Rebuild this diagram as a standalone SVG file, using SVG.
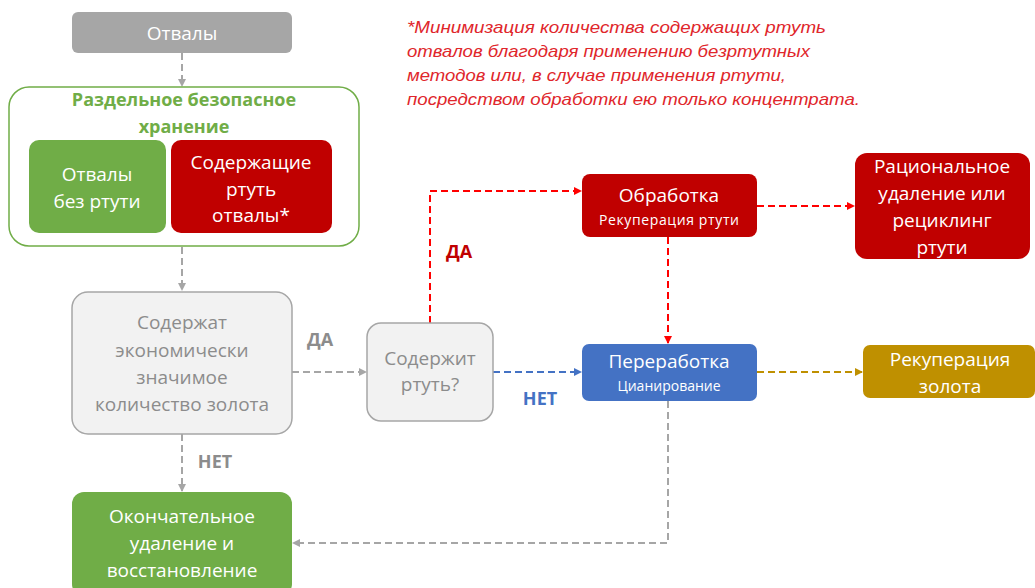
<svg xmlns="http://www.w3.org/2000/svg" width="1035" height="588" viewBox="0 0 1035 588">
<defs>
<style>
.t{font-family:"Open Sans","Liberation Sans",sans-serif;text-anchor:middle;font-size:19px;fill:#fff}
.s{font-size:14px}
.g{fill:#8c8c8c}
.b{font-weight:bold}
.l{font-size:18px}
.c{fill:none;stroke-width:2;stroke-dasharray:7 4}
.note{font-family:"Liberation Sans",sans-serif;font-style:italic;font-size:16.5px;fill:#e0262b}
</style>
<marker id="ag" markerWidth="8" markerHeight="8" refX="7" refY="4" orient="auto" markerUnits="userSpaceOnUse"><path d="M0,0 L8,4 L0,8 z" fill="#a6a6a6"/></marker>
<marker id="ar" markerWidth="8" markerHeight="8" refX="7" refY="4" orient="auto" markerUnits="userSpaceOnUse"><path d="M0,0 L8,4 L0,8 z" fill="#ff0000"/></marker>
<marker id="ab" markerWidth="8" markerHeight="8" refX="7" refY="4" orient="auto" markerUnits="userSpaceOnUse"><path d="M0,0 L8,4 L0,8 z" fill="#4472c4"/></marker>
<marker id="ay" markerWidth="8" markerHeight="8" refX="7" refY="4" orient="auto" markerUnits="userSpaceOnUse"><path d="M0,0 L8,4 L0,8 z" fill="#bf9000"/></marker>
</defs>
<rect width="1035" height="588" fill="#fff"/>

<g id="connectors">
<path class="c" stroke="#a6a6a6" d="M182,53 V86" marker-end="url(#ag)"/>
<path class="c" stroke="#a6a6a6" d="M182,247 V290" marker-end="url(#ag)"/>
<path class="c" stroke="#a6a6a6" d="M292,372 H366" marker-end="url(#ag)"/>
<path class="c" stroke="#a6a6a6" d="M182,434 V491" marker-end="url(#ag)"/>
<path class="c" stroke="#ff0000" d="M430,323 V191 H581" marker-end="url(#ar)"/>
<path class="c" stroke="#ff0000" d="M757,206 H854" marker-end="url(#ar)"/>
<path class="c" stroke="#ff0000" d="M668,237 V343" marker-end="url(#ar)"/>
<path class="c" stroke="#4472c4" d="M493,372 H581" marker-end="url(#ab)"/>
<path class="c" stroke="#bf9000" d="M757,372 H862" marker-end="url(#ay)"/>
<path class="c" stroke="#a6a6a6" d="M668,401 V543 H293" marker-end="url(#ag)"/>
<text class="t b g l" x="320" y="346">ДА</text>
<text class="t b l" x="459" y="258" style="fill:#c00000">ДА</text>
<text class="t b l" x="540" y="405" style="fill:#4472c4">НЕТ</text>
<text class="t b g l" x="215" y="468">НЕТ</text>
</g>

<g id="note">
<text class="note" x="407" y="33" textLength="419" lengthAdjust="spacingAndGlyphs">*Минимизация количества содержащих ртуть</text>
<text class="note" x="407" y="57" textLength="403" lengthAdjust="spacingAndGlyphs">отвалов благодаря применению безртутных</text>
<text class="note" x="407" y="81" textLength="379" lengthAdjust="spacingAndGlyphs">методов или, в случае применения ртути,</text>
<text class="note" x="407" y="105" textLength="453" lengthAdjust="spacingAndGlyphs">посредством обработки ею только концентрата.</text>
</g>

<g id="n-otvaly">
<rect x="72" y="12" width="220" height="41" rx="6" fill="#a6a6a6"/>
<text class="t" x="182" y="40">Отвалы</text>
</g>

<g id="n-storage">
<rect x="9" y="87" width="350" height="159" rx="20" fill="#fff" stroke="#70ad47" stroke-width="1.5"/>
<text class="t b l" x="184" y="106" style="fill:#70ad47">Раздельное безопасное</text>
<text class="t b l" x="184" y="133" style="fill:#70ad47">хранение</text>
</g>

<g id="n-nohg">
<rect x="29" y="140" width="137" height="93" rx="10" fill="#70ad47"/>
<text class="t" x="97" y="181">Отвалы</text>
<text class="t" x="97" y="208">без ртути</text>
</g>

<g id="n-hg">
<rect x="171" y="140" width="161" height="93" rx="10" fill="#c00000"/>
<text class="t" x="251" y="169">Содержащие</text>
<text class="t" x="251" y="196">ртуть</text>
<text class="t" x="251" y="222">отвалы*</text>
</g>

<g id="n-gold">
<rect x="72" y="292" width="220" height="142" rx="16" fill="#f2f2f2" stroke="#a6a6a6" stroke-width="1.5"/>
<text class="t g" x="182" y="329">Содержат</text>
<text class="t g" x="182" y="357">экономически</text>
<text class="t g" x="182" y="384">значимое</text>
<text class="t g" x="182" y="411">количество золота</text>
</g>

<g id="n-containshg">
<rect x="367" y="323" width="126" height="98" rx="14" fill="#f2f2f2" stroke="#a6a6a6" stroke-width="1.5"/>
<text class="t g" x="430" y="365">Содержит</text>
<text class="t g" x="430" y="391">ртуть?</text>
</g>

<g id="n-obrabotka">
<rect x="582" y="174" width="175" height="63" rx="8" fill="#c00000"/>
<text class="t" x="669" y="202">Обработка</text>
<text class="t s" x="669" y="225" textLength="140" lengthAdjust="spacing">Рекуперация  ртути</text>
</g>

<g id="n-recycling">
<rect x="855" y="153" width="175" height="106" rx="12" fill="#c00000"/>
<text class="t" x="942" y="173">Рациональное</text>
<text class="t" x="942" y="200">удаление или</text>
<text class="t" x="942" y="227">рециклинг</text>
<text class="t" x="942" y="254">ртути</text>
</g>

<g id="n-pererabotka">
<rect x="582" y="344" width="175" height="57" rx="7" fill="#4472c4"/>
<text class="t" x="669" y="368">Переработка</text>
<text class="t s" x="669" y="391">Цианирование</text>
</g>

<g id="n-goldrec">
<rect x="863" y="345" width="172" height="53" rx="7" fill="#bf9000"/>
<text class="t" x="950" y="366">Рекуперация</text>
<text class="t" x="950" y="393">золота</text>
</g>

<g id="n-final">
<rect x="72" y="492" width="220" height="104" rx="12" fill="#70ad47"/>
<text class="t" x="182" y="523">Окончательное</text>
<text class="t" x="182" y="550">удаление и</text>
<text class="t" x="182" y="577">восстановление</text>
</g>
</svg>
